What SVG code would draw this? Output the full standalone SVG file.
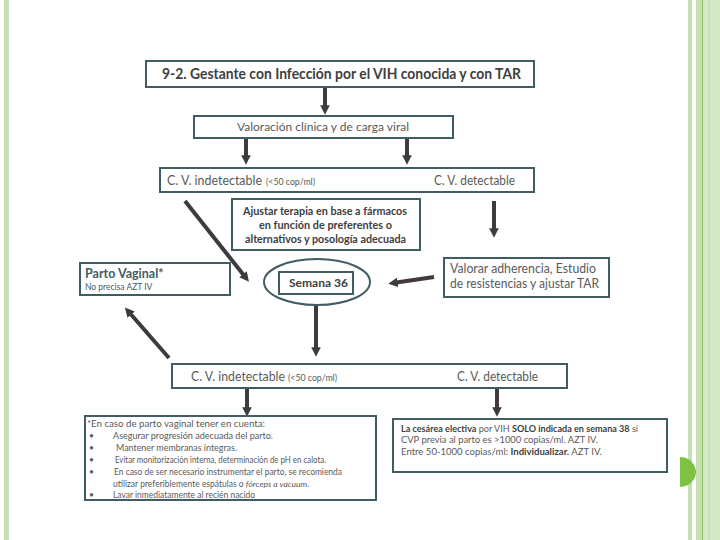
<svg xmlns="http://www.w3.org/2000/svg" width="720" height="540" viewBox="0 0 720 540">
<style>
.box{fill:#fff;stroke:#3f5d63;stroke-width:2}
text{font-family:Lato,"Open Sans","Liberation Sans",sans-serif}
.t{fill:#5a5a5a}
.b{fill:#404040;font-weight:bold}
.s{fill:#5a5a5a;font-size:8.5px}
.c{stroke:#3c3c40;stroke-width:4;fill:none}
</style>
<defs>
<marker id="ah" viewBox="0 0 10 10" refX="5" refY="5" markerWidth="2.4" markerHeight="2.4" orient="auto" markerUnits="strokeWidth">
<path d="M0,0 L10,5 L0,10 z" fill="#3c3c40"/>
</marker>
</defs>
<rect width="720" height="540" fill="#fff"/>
<g id="frame">
<rect x="4" y="0" width="5" height="540" fill="#c6e0b4"/>
<rect x="688" y="0" width="4" height="540" fill="#c6e0b4"/>
<rect x="696" y="0" width="24" height="540" fill="#d3e9c5"/>
<rect x="696" y="0" width="6" height="540" fill="#c6e0b4"/>
<rect x="702" y="0" width="1" height="540" fill="#8fc16b"/>
<rect x="708" y="0" width="2" height="540" fill="#c6e0b4"/>
<path d="M680,457 A16,15 0 0 1 680,487 Z" fill="#7ec242"/>
</g>
<g id="connectors">
<line class="c" x1="325" y1="87" x2="325" y2="110" marker-end="url(#ah)"/>
<line class="c" x1="246" y1="138" x2="246" y2="160" marker-end="url(#ah)"/>
<line class="c" x1="407" y1="138" x2="407" y2="160" marker-end="url(#ah)"/>
<line class="c" x1="185" y1="201" x2="246" y2="278" marker-end="url(#ah)"/>
<line class="c" x1="494" y1="201" x2="494" y2="233" marker-end="url(#ah)"/>
<line class="c" x1="434" y1="277" x2="393" y2="283" marker-end="url(#ah)" style="stroke:#45383c"/>
<line class="c" x1="316" y1="304" x2="316" y2="352" marker-end="url(#ah)"/>
<line class="c" x1="169" y1="358" x2="128" y2="311" marker-end="url(#ah)"/>
<line class="c" x1="247" y1="389" x2="247" y2="412" marker-end="url(#ah)"/>
<line class="c" x1="497" y1="389" x2="497" y2="412" marker-end="url(#ah)" style="stroke:#45383c"/>
</g>
<g id="title">
<rect class="box" x="146" y="61" width="388" height="26"/>
<text class="b" x="162" y="79" font-size="15" textLength="359" lengthAdjust="spacingAndGlyphs">9-2. Gestante con Infección por el VIH conocida y con TAR</text>
</g>
<g id="valoracion">
<rect class="box" x="194" y="116" width="259" height="22"/>
<text class="t" x="237" y="131" font-size="12" textLength="172" lengthAdjust="spacingAndGlyphs">Valoración  clínica y de carga viral</text>
</g>
<g id="cv1">
<rect class="box" x="160" y="168" width="374" height="24"/>
<text class="t" x="167" y="185" font-size="12.5" textLength="95" lengthAdjust="spacingAndGlyphs">C. V.  indetectable</text>
<text class="t" x="266" y="185" font-size="8.5" textLength="49" lengthAdjust="spacingAndGlyphs">(&lt;50 cop/ml)</text>
<text class="t" x="434" y="185" font-size="12.5" textLength="81" lengthAdjust="spacingAndGlyphs">C. V. detectable</text>
</g>
<g id="ajustar">
<rect class="box" x="232" y="199" width="188" height="51"/>
<text class="b" x="243" y="215" font-size="11.5" textLength="164" lengthAdjust="spacingAndGlyphs">Ajustar terapia en base a fármacos</text>
<text class="b" x="259" y="229" font-size="11.5" textLength="133" lengthAdjust="spacingAndGlyphs">en función  de preferentes o</text>
<text class="b" x="245" y="243" font-size="11.5" textLength="161" lengthAdjust="spacingAndGlyphs">alternativos y posología  adecuada</text>
</g>
<g id="semana36">
<ellipse cx="317" cy="282" rx="53" ry="23" fill="#fff" stroke="#3f5d63" stroke-width="2"/>
<rect class="box" x="279" y="272" width="74" height="22"/>
<text class="b" x="289" y="287" font-size="11.5" textLength="59" lengthAdjust="spacingAndGlyphs">Semana 36</text>
</g>
<g id="parto">
<rect class="box" x="80" y="263" width="150" height="32"/>
<text class="b" x="85" y="278" font-size="12.5" style="fill:#3f5d63">Parto Vaginal*</text>
<text class="s" x="85" y="290" font-size="9" style="fill:#3f5d63">No precisa AZT IV</text>
</g>
<g id="valorar">
<rect class="box" x="444" y="258" width="165" height="39"/>
<text class="t" x="450" y="273" font-size="13" textLength="146" lengthAdjust="spacingAndGlyphs">Valorar adherencia, Estudio</text>
<text class="t" x="450" y="288" font-size="13" textLength="149" lengthAdjust="spacingAndGlyphs">de resistencias y ajustar TAR</text>
</g>
<g id="cv2">
<rect class="box" x="172" y="364" width="395" height="24"/>
<text class="t" x="191" y="381" font-size="12.5" textLength="94" lengthAdjust="spacingAndGlyphs">C. V.  indetectable</text>
<text class="t" x="288" y="381" font-size="8.5" textLength="49" lengthAdjust="spacingAndGlyphs">(&lt;50 cop/ml)</text>
<text class="t" x="457" y="381" font-size="12.5" textLength="81" lengthAdjust="spacingAndGlyphs">C. V. detectable</text>
</g>
<g id="vaginal-notes">
<rect class="box" x="85" y="416" width="291" height="84"/>
<text class="s" x="87" y="427" textLength="178" lengthAdjust="spacingAndGlyphs">*En caso de parto vaginal  tener en cuenta:</text>
<text class="s" x="89" y="439">•</text><text class="s" x="113" y="439" textLength="160" lengthAdjust="spacingAndGlyphs">Asegurar progresión adecuada del parto.</text>
<text class="s" x="89" y="451">•</text><text class="s" x="116" y="451" textLength="121" lengthAdjust="spacingAndGlyphs">Mantener membranas íntegras.</text>
<text class="s" x="89" y="463">•</text><text class="s" x="115" y="463" textLength="211" lengthAdjust="spacingAndGlyphs">Evitar monitorización interna, determinación de pH en calota.</text>
<text class="s" x="89" y="475">•</text><text class="s" x="114" y="475" textLength="228" lengthAdjust="spacingAndGlyphs">En caso de ser  necesario instrumentar el parto, se recomienda</text>
<text class="s" x="113" y="486.5">utilizar preferiblemente espátulas o <tspan font-style="italic">fórceps a vacuum</tspan>.</text>
<text class="s" x="89" y="498">•</text><text class="s" x="113" y="498" textLength="142" lengthAdjust="spacingAndGlyphs">Lavar inmediatamente al recién nacido</text>
</g>
<g id="cesarea">
<rect class="box" x="393" y="419" width="274" height="53"/>
<text class="s" x="401" y="432" textLength="237" lengthAdjust="spacingAndGlyphs"><tspan font-weight="bold" fill="#404040">La cesárea electiva</tspan> por VIH <tspan font-weight="bold" fill="#404040">SOLO indicada  en semana 38</tspan> si</text>
<text class="s" x="401" y="443" textLength="197" lengthAdjust="spacingAndGlyphs">CVP previa  al parto es &gt;1000 copias/ml.  AZT IV.</text>
<text class="s" x="401" y="455" textLength="201" lengthAdjust="spacingAndGlyphs">Entre 50-1000 copias/ml: <tspan font-weight="bold" fill="#404040">Individualizar.</tspan>  AZT IV.</text>
</g>
</svg>
